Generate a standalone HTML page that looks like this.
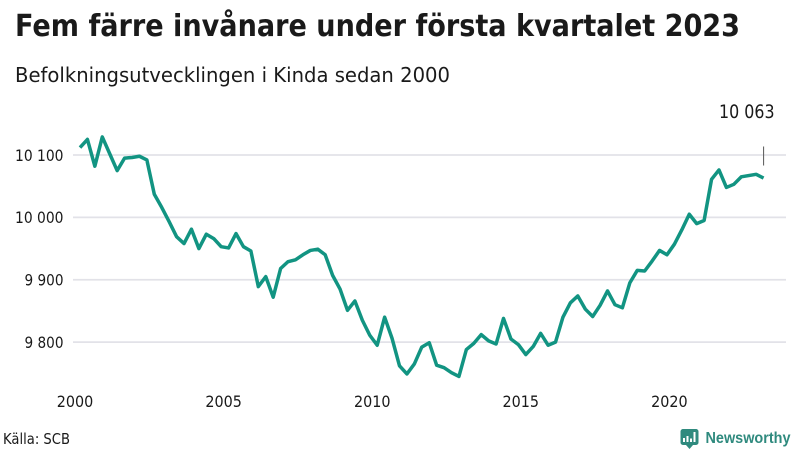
<!DOCTYPE html>
<html lang="sv">
<head>
<meta charset="utf-8">
<title>Fem färre invånare under första kvartalet 2023</title>
<style>
html,body{margin:0;padding:0;background:#fff;width:800px;height:450px;overflow:hidden}
svg{display:block}
text{font-family:"DejaVu Sans","Liberation Sans",sans-serif;fill:#1a1a1a}
</style>
</head>
<body>
<svg id="chart" xmlns="http://www.w3.org/2000/svg" width="800" height="450" viewBox="0 0 800 450">
  <rect width="800" height="450" fill="#fff"/>
  <text x="15" y="36" font-size="30" font-weight="700" fill="#111" textLength="725" lengthAdjust="spacingAndGlyphs">Fem färre invånare under första kvartalet 2023</text>
  <text x="15" y="82" font-size="20.5" textLength="435" lengthAdjust="spacingAndGlyphs">Befolkningsutvecklingen i Kinda sedan 2000</text>
  <g id="grid"></g>
  <g id="yaxis"></g>
  <g id="xaxis"></g>
  <g id="series"></g>
  <text x="3" y="444" font-size="15" textLength="67" lengthAdjust="spacingAndGlyphs">Källa: SCB</text>
  <g>
    <path d="M683 429h13a2.500 2.500 0 0 1 2.500 2.500v11a2.500 2.500 0 0 1-2.500 2.500h-3l-3.500 4-3.500-4h-3a2.500 2.500 0 0 1-2.500-2.500v-11a2.500 2.500 0 0 1 2.500-2.500z" fill="#2f8a7e"/>
    <rect x="683" y="438" width="2" height="4" fill="#fff"/>
    <rect x="686.500" y="436" width="2" height="6" fill="#fff"/>
    <rect x="690" y="438.500" width="2" height="3.500" fill="#fff"/>
    <rect x="693.500" y="432" width="2" height="10" fill="#fff"/>
    <text x="705.500" y="443" font-size="16" font-weight="700" style="font-family:'Liberation Sans',sans-serif;fill:#2f8a7e" textLength="85" lengthAdjust="spacingAndGlyphs">Newsworthy</text>
  </g>
</svg>
<script>
const categories = [
"2000Q1","2000Q2","2000Q3","2000Q4","2001Q1","2001Q2","2001Q3","2001Q4",
"2002Q1","2002Q2","2002Q3","2002Q4","2003Q1","2003Q2","2003Q3","2003Q4",
"2004Q1","2004Q2","2004Q3","2004Q4","2005Q1","2005Q2","2005Q3","2005Q4",
"2006Q1","2006Q2","2006Q3","2006Q4","2007Q1","2007Q2","2007Q3","2007Q4",
"2008Q1","2008Q2","2008Q3","2008Q4","2009Q1","2009Q2","2009Q3","2009Q4",
"2010Q1","2010Q2","2010Q3","2010Q4","2011Q1","2011Q2","2011Q3","2011Q4",
"2012Q1","2012Q2","2012Q3","2012Q4","2013Q1","2013Q2","2013Q3","2013Q4",
"2014Q1","2014Q2","2014Q3","2014Q4","2015Q1","2015Q2","2015Q3","2015Q4",
"2016Q1","2016Q2","2016Q3","2016Q4","2017Q1","2017Q2","2017Q3","2017Q4",
"2018Q1","2018Q2","2018Q3","2018Q4","2019Q1","2019Q2","2019Q3","2019Q4",
"2020Q1","2020Q2","2020Q3","2020Q4","2021Q1","2021Q2","2021Q3","2021Q4",
"2022Q1","2022Q2","2022Q3","2022Q4","2023Q1"];
const population = [
10112,10125,10082,10129,10102,10075,10095,10096,
10098,10092,10037,10016,9993,9969,9958,9981,
9950,9973,9966,9953,9951,9974,9953,9946,
9889,9905,9872,9918,9929,9932,9940,9947,
9949,9940,9907,9885,9851,9866,9835,9811,
9795,9840,9806,9762,9749,9765,9792,9799,
9763,9759,9751,9745,9788,9798,9812,9802,
9797,9838,9805,9796,9780,9793,9814,9795,
9800,9840,9863,9874,9853,9841,9859,9882,
9860,9855,9895,9915,9914,9930,9947,9940,
9957,9980,10005,9990,9995,10061,10076,10048,
10053,10065,10067,10069,10063];
const yTicks = [9800,9900,10000,10100];
const yTickLabels = ["9 800","9 900","10 000","10 100"];
const xTicks = [2000,2005,2010,2015,2020];
const xTickLabels = ["2000","2005","2010","2015","2020"];
const lastValueLabel = "10 063";

const NS = "http://www.w3.org/2000/svg";
function xScale(t){ return 80 + (t - 2000) * 29.72; }
function yScale(v){ return 155 + (10100 - v) * 0.6237; }
function catTime(c){ return Number(c.slice(0,4)) + (Number(c.slice(5)) - 1) / 4; }
function make(tag, attrs, parent){
  const el = document.createElementNS(NS, tag);
  for (const k in attrs) el.setAttribute(k, attrs[k]);
  parent.appendChild(el);
  return el;
}
const grid = document.getElementById("grid");
const yaxis = document.getElementById("yaxis");
const xaxis = document.getElementById("xaxis");
const series = document.getElementById("series");

yTicks.forEach(function(v, i){
  const gl = make("line", {x1:73, x2:786, y1:yScale(v), y2:yScale(v), stroke:"#e2e2e8", "stroke-width":1.7}, grid);
  
  
  const t = make("text", {x:63.5, y:yScale(v)+5.8, "text-anchor":"end", "font-size":16, textLength:yTickLabels[i].length === 6 ? 48.5 : 39, lengthAdjust:"spacingAndGlyphs"}, yaxis);
  
  
  t.textContent = yTickLabels[i];
});
xTicks.forEach(function(y, i){
  const t = make("text", {x:xScale(y)-5, y:407, "text-anchor":"middle", "font-size":16, textLength:36.5, lengthAdjust:"spacingAndGlyphs"}, xaxis);
  
  
  t.textContent = xTickLabels[i];
});
const d = population.map(function(v, i){
  return (i ? "L" : "M") + xScale(catTime(categories[i])).toFixed(2) + " " + yScale(v).toFixed(2);
}).join("");
const line = make("path", {d:d, fill:"none", stroke:"#129482", "stroke-width":3.5, "stroke-linejoin":"round", "stroke-linecap":"butt"}, series);



const lastX = xScale(catTime(categories[categories.length-1]));
const marker = make("line", {x1:lastX, x2:lastX, y1:146.5, y2:165.5, stroke:"#666", "stroke-width":1.1}, series);


const lab = make("text", {x:lastX+11, y:118, "text-anchor":"end", "font-size":18.5, textLength:55.5, lengthAdjust:"spacingAndGlyphs"}, series);


lab.textContent = lastValueLabel;
</script>
</body>
</html>
